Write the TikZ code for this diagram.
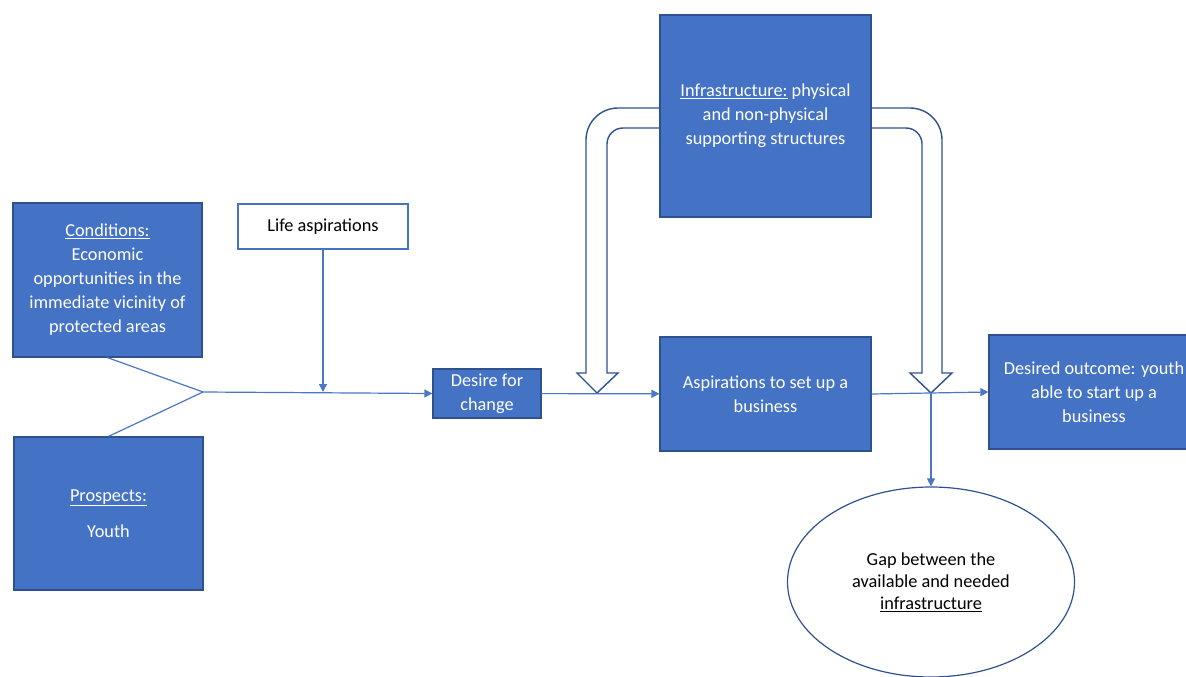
\documentclass[tikz,border=0pt]{standalone}
\usepackage{fontspec}
\setmainfont{Carlito}
\usepackage{xcolor}
\usetikzlibrary{arrows.meta, shapes.geometric, positioning}
\definecolor{boxblue}{HTML}{4472C4}
\definecolor{edgeblue}{HTML}{2F528F}
\definecolor{lineblue}{HTML}{4A76C6}

\begin{document}
\begin{tikzpicture}[x=1pt, y=-1pt,
      bb/.style={draw=edgeblue, line width=1.2pt, fill=boxblue, text=white, align=center, inner sep=0pt, font=\fontsize{18.3}{24}\selectfont},
      wb/.style={bb, draw=boxblue, fill=white, text=black},
      gp/.style={draw=edgeblue, line width=1.2pt, ellipse, inner sep=0pt, align=center, font=\fontsize{18.3}{22}\selectfont},
      ln/.style={draw=lineblue, line width=1.2pt},
      ar/.style={ln, -{Triangle[length=8pt,width=8pt]}},
      ho/.style={draw=edgeblue, line width=1.4pt, fill=white, line join=miter}]
      \useasboundingbox (0,0) rectangle (1186,677);

      % hollow arrows out of the infrastructure box
      \draw[ho] (662,108) [rounded corners=32pt] -- (586,108) [sharp corners] -- (586,373) -- (577,373) -- (597,393) -- (618,373) -- (607,373) [rounded corners=16pt] -- (607,128) -- (662,128);
      \draw[ho] (869,108) [rounded corners=32pt] -- (942,108) [sharp corners] -- (942,373) -- (952,373) -- (931,393) -- (910,373) -- (922,373) [rounded corners=16pt] -- (922,128) -- (869,128);

      \draw node[bb, minimum width=189, minimum height=154] (cond) at (107.5,280) {\underline{Conditions:}\\Economic\\opportunities in the\\immediate vicinity of\\protected areas};
      \draw node[wb, minimum width=170, minimum height=45] (life) at (323,226.5) {Life aspirations};
      \draw node[bb, minimum width=189, minimum height=153] (pros) at (108.5,513.5) {\underline{Prospects:}\\[12pt]Youth};
      \draw node[bb, minimum width=108, minimum height=49] (des) at (487,393.5) {Desire for\\change};
      \draw node[bb, minimum width=211, minimum height=114] (asp) at (765.5,394) {Aspirations to set up a\\business};
      \draw node[bb, minimum width=211, minimum height=202] (inf) at (765.5,116) {\underline{Infrastructure:} physical\\and non-physical\\supporting structures};
      \draw node[bb, minimum width=210, minimum height=114] (out) at (1094,392) {Desired outcome: youth\\able to start up a\\business};
      \draw node[gp, minimum width=287, minimum height=190] (gap) at (931,582) {Gap between the\\available and needed\\\underline{infrastructure}};

      \coordinate (j) at (203,392);
      \coordinate (k) at (931,394);
      \draw[ln] (cond.south) -- (j);
      \draw[ln] (pros.north) -- (j);
      \draw[ar] (j) -- (des.west);
      \draw[ar] (life) -- (life |- j);
      \draw[ar] (des) -- (asp);
      \draw[ar] (asp.east) -- (out.west);
      \draw[ar] (k) -- (k |- gap.north);
\end{tikzpicture}
\end{document}
